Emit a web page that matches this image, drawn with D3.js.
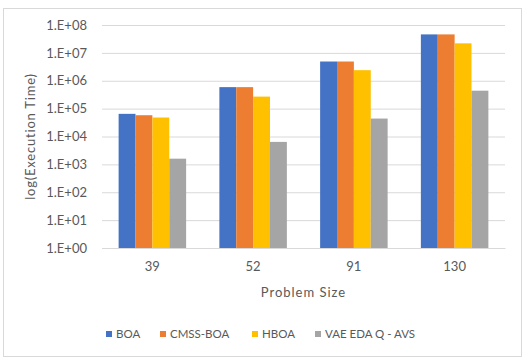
<!DOCTYPE html>
<html lang="en">
<head>
<meta charset="UTF-8" />
<title>Execution time by problem size</title>
<style>
  body { margin: 0; background: #fff; }
  svg text { font-family: Lato, "Open Sans", sans-serif; fill: #595959; }
</style>
</head>
<body>
<svg width="526" height="358"></svg>
<script src="https://d3js.org/d3.v7.min.js"></script>
<script>
// chart data
var categories = ["39", "52", "91", "130"];
var seriesNames = ["BOA", "CMSS-BOA", "HBOA", "VAE EDA Q - AVS"];
var seriesColors = ["#4472C4", "#ED7D31", "#FFC000", "#A5A5A5"];
var boa     = [6.5e4, 5.9e5, 4.9e6, 4.6e7];
var cmssBoa = [5.8e4, 5.9e5, 4.9e6, 4.6e7];
var hboa    = [4.8e4, 2.7e5, 2.4e6, 2.2e7];
var vaeEda  = [1.6e3, 6.4e3, 4.4e4, 4.4e5];
var yTicks = [1, 10, 100, 1e3, 1e4, 1e5, 1e6, 1e7, 1e8];

var seriesValues = [boa, cmssBoa, hboa, vaeEda];

var svg = d3.select("svg");
var margin = {top: 25, right: 21, bottom: 110, left: 102};
var width = 526 - margin.left - margin.right,
    height = 358 - margin.top - margin.bottom;

// outer chart frame
svg.append("rect")
   .attr("x", 3.5).attr("y", 8.5)
   .attr("width", 518).attr("height", 348)
   .attr("fill", "none").attr("stroke", "#D9D9D9");

var g = svg.append("g")
    .attr("transform", "translate(" + margin.left + "," + margin.top + ")");

var x0 = d3.scaleBand().domain(categories).range([0, width]).paddingInner(0.33).paddingOuter(0.165);
var x1 = d3.scaleBand().domain(seriesNames).range([0, x0.bandwidth()]);
var y = d3.scaleLog().domain([1, 1e8]).range([height, 0]);

function fmt(d) { return "1.E+" + String(Math.round(Math.log10(d))).padStart(2, "0"); }

// grid + y labels
var yAxis = g.append("g")
    .call(d3.axisLeft(y).tickValues(yTicks).tickFormat(fmt).tickSize(-width).tickPadding(15));
yAxis.select(".domain").remove();
yAxis.selectAll(".tick line").attr("stroke", "#D9D9D9");
yAxis.selectAll(".tick text").attr("font-size", "13px").attr("fill", "#595959");

// bars
var groups = g.selectAll(".grp")
    .data(categories)
    .enter().append("g")
    .attr("class", "grp")
    .attr("transform", function(d) { return "translate(" + x0(d) + ",0)"; });

groups.selectAll("rect")
    .data(function(d, i) {
        return seriesNames.map(function(s, j) { return {s: s, v: seriesValues[j][i], c: seriesColors[j]}; });
    })
    .enter().append("rect")
    .attr("x", function(d) { return x1(d.s); })
    .attr("width", x1.bandwidth())
    .attr("y", function(d) { return y(d.v); })
    .attr("height", function(d) { return height - y(d.v); })
    .attr("fill", function(d) { return d.c; });

// x axis
var xAxis = g.append("g")
    .attr("transform", "translate(0," + height + ")")
    .call(d3.axisBottom(x0).tickSize(0).tickPadding(14));
xAxis.select(".domain").attr("stroke", "#D9D9D9");
xAxis.selectAll(".tick text").attr("font-size", "13px").attr("fill", "#595959");

// axis titles
g.append("text")
    .attr("x", width / 2).attr("y", height + 49)
    .attr("text-anchor", "middle")
    .attr("font-size", "13px")
    .style("letter-spacing", "1px")
    .text("Problem Size");

svg.append("text")
    .attr("transform", "translate(35," + (margin.top + height / 2) + ") rotate(-90)")
    .attr("text-anchor", "middle")
    .attr("font-size", "13px")
    .style("letter-spacing", "0.8px")
    .text("log(Execution Time)");

// legend
var legendX = [106, 160, 252, 315];
var legend = svg.selectAll(".leg")
    .data(seriesNames)
    .enter().append("g")
    .attr("class", "leg")
    .attr("transform", function(d, i) { return "translate(" + legendX[i] + ",334)"; });
legend.append("rect")
    .attr("x", 0).attr("y", -3)
    .attr("width", 6).attr("height", 6)
    .attr("fill", function(d, i) { return seriesColors[i]; });
legend.append("text")
    .attr("x", 10).attr("dy", "0.35em")
    .attr("font-size", "11.5px")
    .text(function(d) { return d; });
</script>
</body>
</html>
